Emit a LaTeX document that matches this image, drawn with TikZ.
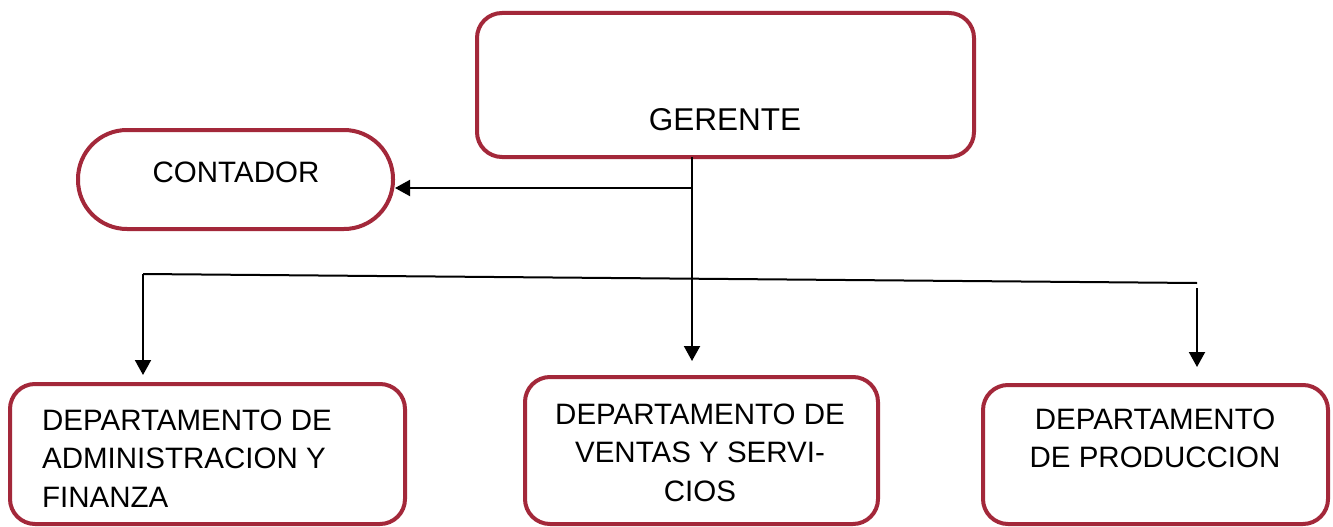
\documentclass[tikz,border=0pt]{standalone}
\usepackage{fontspec}
\setmainfont{Liberation Sans}
\usetikzlibrary{arrows.meta}
\definecolor{boxred}{HTML}{A3283A}
\tikzset{
  orgbox/.style={draw=boxred, line width=4pt, fill=white, inner sep=0pt},
  conn/.style={draw=black, line width=2pt},
  arr/.style={conn, -{Triangle[width=16pt,length=15pt]}},
  lbl/.style={inner sep=0pt, font=\fontsize{29.5}{38.5}\selectfont}
}
\begin{document}
\begin{tikzpicture}[x=1pt,y=-1pt]
\useasboundingbox (0,0) rectangle (1333,527);
% boxes
\node[orgbox, rounded corners=25pt, minimum width=497pt, minimum height=144pt] (gerente) at (725.5,85) {};
\node[orgbox, rounded corners=49pt, minimum width=315pt, minimum height=99pt] (contador) at (235.5,179.5) {};
\node[orgbox, rounded corners=25pt, minimum width=395pt, minimum height=140pt] (admin) at (207.5,454) {};
\node[orgbox, rounded corners=25pt, minimum width=353pt, minimum height=147pt] (ventas) at (701.5,450.5) {};
\node[orgbox, rounded corners=25pt, minimum width=345pt, minimum height=139pt] (prod) at (1155.5,454.5) {};
% texts
\node[lbl, anchor=base, font=\fontsize{31.5}{38.5}\selectfont] (tgerente) at (725,130) {GERENTE};
\node[lbl, anchor=base] (tcontador) at (236,182) {CONTADOR};
\node[lbl, anchor=north west, align=left] (tadmin) at (42,409.5) {DEPARTAMENTO DE\\ADMINISTRACION Y\\FINANZA};
\node[lbl, anchor=north, align=center] (tventas) at (700,403.5) {DEPARTAMENTO DE\\VENTAS Y SERVI-\\CIOS};
\node[lbl, anchor=north, align=center] (tprod) at (1155,408.5) {DEPARTAMENTO\\DE PRODUCCION};
% connector points
\coordinate (g0) at (692,157);
\coordinate (gb) at (692,188);
\coordinate (gv) at (692,361);
\coordinate (hl) at (143,274);
\coordinate (hr) at (1197,283);
\coordinate (al) at (143,375);
\coordinate (pr0) at (1197,288);
\coordinate (pr1) at (1197,367);
% connectors
\draw[arr] (g0) -- (gv);
\draw[arr] (gb) -- (gb -| contador.east);
\draw[conn] (hr) -- (hl);
\draw[arr] (hl) -- (al);
\draw[arr] (pr0) -- (pr1);
\end{tikzpicture}
\end{document}
